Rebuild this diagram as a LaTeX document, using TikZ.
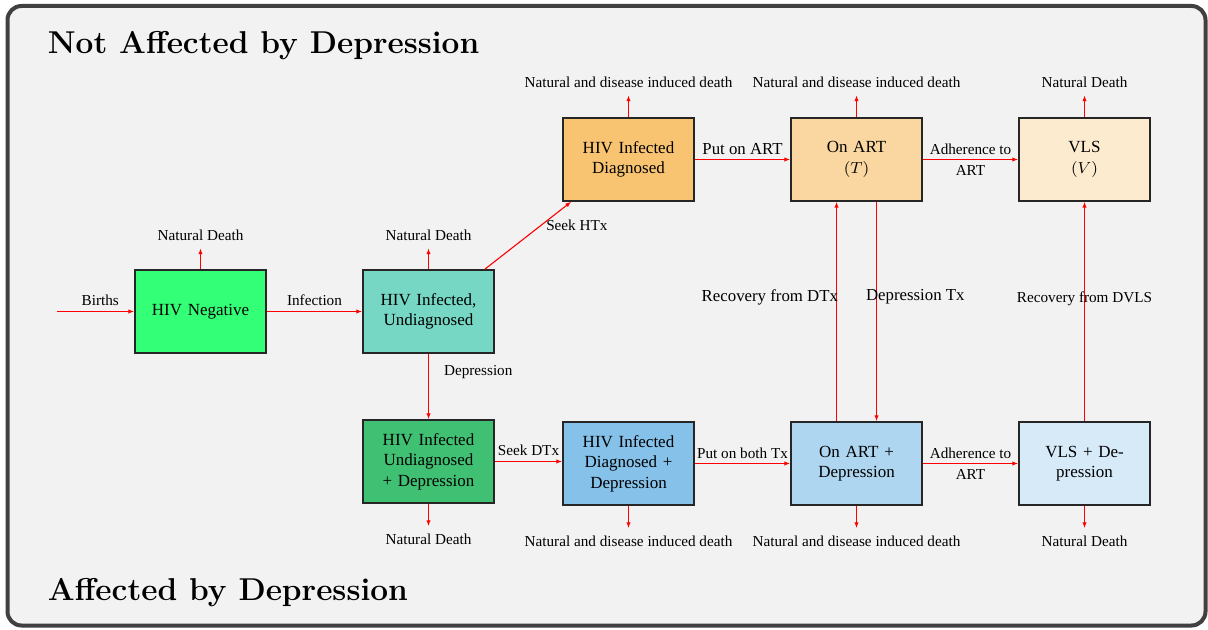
\documentclass[tikz,border=0pt]{standalone}
\usepackage{fontspec}
\newfontfamily\tnr{Liberation Serif}
\usetikzlibrary{arrows.meta}
\definecolor{negC}{RGB}{51,255,119}
\definecolor{undC}{HTML}{76D7C4}
\definecolor{diagC}{HTML}{F8C471}
\definecolor{artC}{HTML}{FAD7A0}
\definecolor{vlsC}{HTML}{FDEBD0}
\definecolor{unddepC}{RGB}{64,192,115}
\definecolor{diagdepC}{HTML}{85C1E9}
\definecolor{artdepC}{HTML}{AED6F1}
\definecolor{vlsdepC}{HTML}{D6EAF8}
\definecolor{bgC}{HTML}{F2F2F2}
\definecolor{frameC}{HTML}{404040}
\newcommand\boxfont{\tnr\fontsize{8.5}{10.2}\selectfont}
\newcommand\labfont{\tnr\fontsize{7.6}{10.5}\selectfont}
\newcommand\midfont{\tnr\fontsize{8.4}{10.2}\selectfont}
\begin{document}
\begin{tikzpicture}[x=0.5pt,y=-0.5pt,
  box/.style={draw=black!85, line width=0.7pt, minimum width=65.5pt, minimum height=41.5pt,
    text width=60pt, align=center, inner sep=1pt, font=\boxfont},
  flow/.style={draw=red, line width=0.55pt, -{Latex[length=3pt,width=2.2pt]}},
  lab/.style={font=\labfont, inner sep=1pt},
  midlab/.style={font=\midfont, inner sep=1pt},
  death/.style={flow, shorten >=2.5pt},
  heading/.style={font=\fontsize{15.8}{18}\selectfont\bfseries, anchor=base west, inner sep=0pt}]
\fill[white] (0,0) rectangle (1208,630);
\draw[draw=frameC, fill=bgC, line width=2pt, rounded corners=7pt] (7.5,6) rectangle (1205.5,625.5);
\useasboundingbox (0,0) rectangle (1208,630);

\node[heading] (h1) at (47.5,54) {Not Affected by Depression};
\node[heading] (h2) at (47.5,600) {Affected by Depression};

\node[box, fill=negC] (neg) at (200.5,311.5) {HIV Negative};
\node[box, fill=undC] (und) at (428.5,311.5) {HIV Infected,\\Undiagnosed};
\node[box, fill=diagC] (diag) at (628.5,159.5) {HIV Infected\\Diagnosed};
\node[box, fill=artC] (art) at (856.5,159.5) {On ART\\$(T)$};
\node[box, fill=vlsC] (vls) at (1084.5,159.5) {VLS\\$(V)$};
\node[box, fill=unddepC] (unddep) at (428.5,461.5) {HIV Infected\\Undiagnosed\\+ Depression};
\node[box, fill=diagdepC] (diagdep) at (628.5,463.5) {HIV Infected\\Diagnosed +\\Depression};
\node[box, fill=artdepC] (artdep) at (856.5,463.5) {On ART +\\Depression};
\node[box, fill=vlsdepC] (vlsdep) at (1084.5,463.5) {VLS + De-\\pression};

\node[lab] (dneg) at (200.5,235.5) {Natural Death};
\node[lab] (dund) at (428.5,235.5) {Natural Death};
\node[lab] (ddiag) at (628.5,82.5) {Natural and disease induced death};
\node[lab] (dart) at (856.5,82.5) {Natural and disease induced death};
\node[lab] (dvls) at (1084.5,82.5) {Natural Death};
\node[lab] (dunddep) at (428.5,539) {Natural Death};
\node[lab] (ddiagdep) at (628.5,541) {Natural and disease induced death};
\node[lab] (dartdep) at (856.5,541) {Natural and disease induced death};
\node[lab] (dvlsdep) at (1084.5,541) {Natural Death};

\draw[death] (neg.north) -- (dneg.south);
\draw[death] (und.north) -- (dund.south);
\draw[death] (diag.north) -- (ddiag.south);
\draw[death] (art.north) -- (dart.south);
\draw[death] (vls.north) -- (dvls.south);
\draw[death] (unddep.south) -- (dunddep.north);
\draw[death] (diagdep.south) -- (ddiagdep.north);
\draw[death] (artdep.south) -- (dartdep.north);
\draw[death] (vlsdep.south) -- (dvlsdep.north);

\coordinate (bstart) at (57,311.5);
\draw[flow] (bstart) -- node[lab, pos=0.56, above=1.75pt] {Births} (neg.west);
\draw[flow] (neg.east) -- node[lab, above=1.75pt] {Infection} (und.west);
\draw[flow] ([xshift=-5pt]und.north east) -- node[lab, pos=0.7, anchor=west, xshift=-0.8pt, yshift=-1.9pt] {Seek HTx} ([xshift=4.5pt]diag.south west);
\draw[flow] (diag.east) -- node[midlab, above=1.15pt] {Put on ART} (art.west);
\draw[flow] (art.east) -- node[lab, align=center] {Adherence to\\ART} (vls.west);
\draw[flow] (und.south) -- node[lab, anchor=west, xshift=6.5pt, yshift=7.25pt] {Depression} (unddep.north);
\draw[flow] (unddep.east) -- node[lab, above=1.5pt] {Seek DTx} (unddep.east -| diagdep.west);
\draw[flow] (diagdep.east) -- node[lab, above=1.15pt] {Put on both Tx} (artdep.west);
\draw[flow] (artdep.east) -- node[lab, align=center] {Adherence to\\ART} (vlsdep.west);
\draw[flow] ([xshift=-10pt]artdep.north) -- node[midlab, anchor=east, xshift=2pt, yshift=7.25pt] {Recovery from DTx} ([xshift=-10pt]art.south);
\draw[flow] ([xshift=10pt]art.south) -- node[midlab, anchor=west, xshift=-6.5pt, yshift=7.25pt] {Depression Tx} ([xshift=10pt]artdep.north);
\draw[flow] (vlsdep.north) -- node[lab, yshift=6.5pt] {Recovery from DVLS} (vls.south);
\end{tikzpicture}
\end{document}
